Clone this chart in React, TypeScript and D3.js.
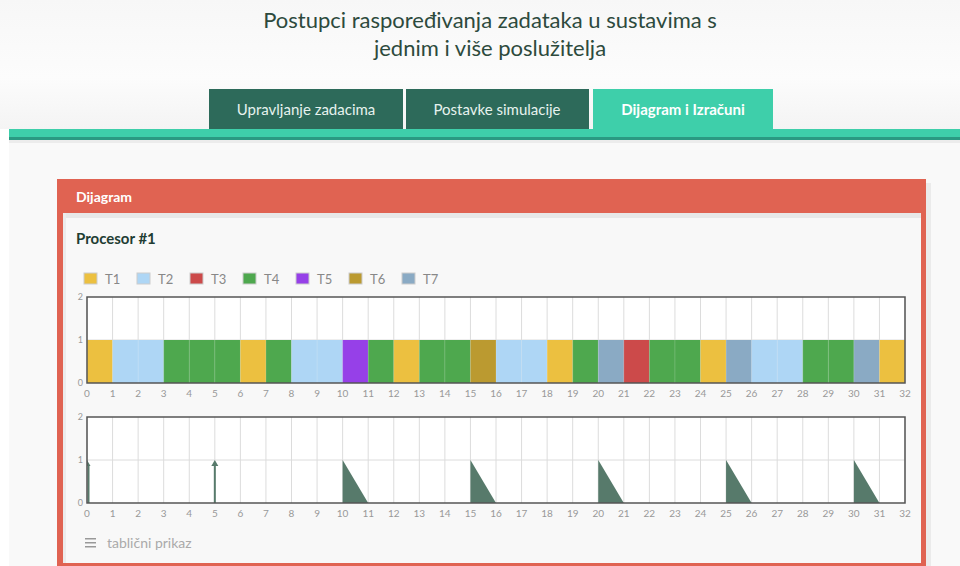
import React from 'react';
import * as d3 from 'd3';

const taskNames = ['T1', 'T2', 'T3', 'T4', 'T5', 'T6', 'T7'];
const taskColors = ['#ecc040', '#aed6f5', '#cc4a4a', '#4ea84e', '#9640e8', '#bb9a30', '#8aaac4'];

// one entry per time slot 0..31
const schedule = [
  'T1', 'T2', 'T2', 'T4', 'T4', 'T4', 'T1', 'T4', 'T2', 'T2',
  'T5', 'T4', 'T1', 'T4', 'T4', 'T6', 'T2', 'T2', 'T1', 'T4',
  'T7', 'T3', 'T4', 'T4', 'T1', 'T7', 'T2', 'T2', 'T4', 'T4',
  'T7', 'T1',
];

const arrivals = [0, 5];
const deadlines = [10, 15, 20, 25, 30];

const xTicks = d3.range(0, 33);
const yTicks = [0, 1, 2];

const FONT = 'Lato, "Open Sans", sans-serif';

const W = 960;
const H = 566;
const plotLeft = 87;
const plotRight = 905;

const x = d3.scaleLinear().domain([0, 32]).range([plotLeft, plotRight]);
const color = d3.scaleOrdinal<string, string>().domain(taskNames).range(taskColors);

const Frame: React.FC<{ top: number; bottom: number; clipId: string; children?: React.ReactNode }> = ({ top, bottom, clipId, children }) => {
  const y = d3.scaleLinear().domain([0, 2]).range([bottom, top]);
  return (
    <g>
      <defs>
        <clipPath id={clipId}>
          <rect x={plotLeft} y={top} width={plotRight - plotLeft} height={bottom - top} />
        </clipPath>
      </defs>
      <rect x={plotLeft} y={top} width={plotRight - plotLeft} height={bottom - top} fill="#fff" />
      {xTicks.map(t => (
        <line key={t} x1={x(t)} x2={x(t)} y1={top} y2={bottom} stroke="#dcdcdc" strokeWidth={1} />
      ))}
      <line x1={plotLeft} x2={plotRight} y1={y(1)} y2={y(1)} stroke="#dcdcdc" strokeWidth={1} />
      <g clipPath={`url(#${clipId})`}>{children}</g>
      <rect x={plotLeft} y={top} width={plotRight - plotLeft} height={bottom - top} fill="none" stroke="#555" strokeWidth={1.5} />
      {xTicks.map(t => (
        <text key={t} x={x(t)} y={bottom + 14} textAnchor="middle" fontSize={10} fill="#999" fontFamily={FONT}>{t}</text>
      ))}
      {yTicks.map(t => (
        <text key={t} x={plotLeft - 4} y={y(t) + 3} textAnchor="end" fontSize={9} fill="#999" fontFamily={FONT}>{t}</text>
      ))}
    </g>
  );
};

export default function App() {
  const top1 = 297, bottom1 = 383;
  const top2 = 417, bottom2 = 503;
  const y1 = d3.scaleLinear().domain([0, 2]).range([bottom1, top1]);
  const y2 = d3.scaleLinear().domain([0, 2]).range([bottom2, top2]);
  const mark = '#577a6b';

  const tri = d3.area<[number, number]>().x(d => x(d[0])).y0(y2(0)).y1(d => y2(d[1]));

  return (
    <div style={{ position: 'absolute', left: 0, top: 0 }}>
      <svg width={W} height={H} style={{ display: 'block' }}>
        <defs>
          <linearGradient id="hdr" x1="0" y1="0" x2="0" y2="1">
            <stop offset="0%" stopColor="#f7f7f7" />
            <stop offset="60%" stopColor="#fcfcfc" />
            <stop offset="100%" stopColor="#f4f4f4" />
          </linearGradient>
        </defs>
        <rect width={W} height={H} fill="#ffffff" />
        <rect x={9} y={129} width={W - 9} height={H - 129} fill="#f9f9f9" />
        <rect width={W} height={129} fill="url(#hdr)" />

        <text x={490} y={28} textAnchor="middle" fontSize={22} fill="#2d4a3d" fontFamily={FONT}>Postupci raspoređivanja zadataka u sustavima s</text>
        <text x={490} y={56} textAnchor="middle" fontSize={22} fill="#2d4a3d" fontFamily={FONT}>jednim i više poslužitelja</text>

        <rect x={209} y={89} width={194} height={40} fill="#2d6a5a" />
        <rect x={406} y={89} width={183} height={40} fill="#2d6a5a" />
        <rect x={593} y={89} width={180} height={40} fill="#3ecfaa" />
        <text x={306} y={115} textAnchor="middle" fontSize={15} fill="#e6f2ee" fontFamily={FONT}>Upravljanje zadacima</text>
        <text x={497} y={115} textAnchor="middle" fontSize={15} fill="#e6f2ee" fontFamily={FONT}>Postavke simulacije</text>
        <text x={683} y={115} textAnchor="middle" fontSize={15} fontWeight="bold" fill="#ffffff" fontFamily={FONT}>Dijagram i Izračuni</text>

        <rect x={9} y={129} width={W - 9} height={8} fill="#3ecfaa" />
        <rect x={9} y={137} width={W - 9} height={3} fill="#2a9a82" />
        <rect x={9} y={140} width={W - 9} height={3} fill="#ececec" />

        <rect x={926} y={183} width={5} height={H - 183} fill="#ebebeb" />
        <rect x={57} y={179} width={869} height={392} fill="#e06352" />
        <rect x={63} y={213} width={858} height={350} fill="#f8f8f8" />
        <rect x={63} y={213} width={858} height={5} fill="#e8e8e8" />
        <rect x={63} y={213} width={3} height={350} fill="#ececec" />
        <text x={76} y={202} fontSize={14} fontWeight="bold" fill="#fff" fontFamily={FONT}>Dijagram</text>

        <text x={76} y={244} fontSize={15} fontWeight="bold" fill="#1f3d33" fontFamily={FONT}>Procesor #1</text>

        {taskNames.map((n, i) => (
          <g key={n} transform={`translate(${84 + i * 53},273)`}>
            <rect width={13} height={11} fill={color(n)} stroke="#ccc" strokeWidth={1} />
            <text x={21} y={11} fontSize={13} fill="#888" fontFamily={FONT}>{n}</text>
          </g>
        ))}

        <Frame top={top1} bottom={bottom1} clipId="c1">
          {schedule.map((t, i) => (
            <rect key={i} x={x(i)} y={y1(1)} width={x(i + 1) - x(i)} height={y1(0) - y1(1)} fill={color(t)} />
          ))}
          {xTicks.map(t => (
            <line key={t} x1={x(t)} x2={x(t)} y1={y1(1)} y2={y1(0)} stroke="#fff" strokeOpacity={0.15} strokeWidth={1} />
          ))}
        </Frame>

        <Frame top={top2} bottom={bottom2} clipId="c2">
          {deadlines.map(d => (
            <path key={d} d={tri([[d, 1], [d + 1, 0]]) || ''} fill={mark} />
          ))}
          {arrivals.map(a => (
            <g key={a}>
              <line x1={x(a) + (a === 0 ? 1.5 : 0)} x2={x(a) + (a === 0 ? 1.5 : 0)} y1={y2(0)} y2={y2(1) + 5} stroke={mark} strokeWidth={2} />
              <path d={`M${x(a) - 3.5},${y2(1) + 6} L${x(a)},${y2(1)} L${x(a) + 3.5},${y2(1) + 6} Z`} fill={mark} />
            </g>
          ))}
        </Frame>

        <g fill="#999">
          <rect x={85} y={538} width={11} height={1.5} />
          <rect x={85} y={542} width={11} height={1.5} />
          <rect x={85} y={546} width={11} height={1.5} />
        </g>
        <text x={107} y={548} fontSize={14} fill="#aaa" fontFamily={FONT}>tablični prikaz</text>
      </svg>
    </div>
  );
}
